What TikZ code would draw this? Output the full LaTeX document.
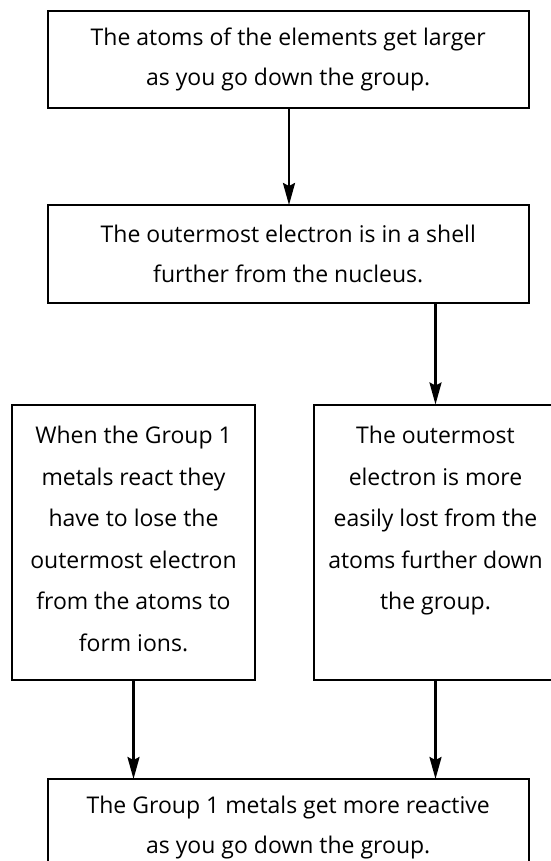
\documentclass[tikz,border=0pt]{standalone}
\usepackage{fontspec}
\setmainfont{Open Sans}
\usetikzlibrary{arrows.meta}

\tikzset{
  box/.style={draw=black, line width=2pt, inner sep=0pt, outer sep=0pt, fill=white},
  flow/.style={line width=2.4pt, -{Stealth[length=22pt, width=12pt, inset=3pt]}},
  txt/.style={font=\fontsize{23}{40}\selectfont, align=center, inner sep=0pt}
}

% top-aligned centred text in a fixed-size frame: #1 frame width, #2 height, #3 text width
\newcommand{\topbox}[4]{\parbox[c][#2][t]{#1}{\vspace*{22pt}\parbox[t]{#3}{\centering\fontsize{23}{41.5}\selectfont #4}}}

\begin{document}
\begin{tikzpicture}[x=1pt, y=-1pt]
  \useasboundingbox (0,0) rectangle (550,861);

  % column lines for the vertical connectors
  \coordinate (colA) at (289,0);
  \coordinate (colB) at (435.5,0);

  % main chain of statements
  \node[box, minimum width=481.5pt, minimum height=97pt, txt] (atoms) at (288.25,59.5)
    {The atoms of the elements get larger\\as you go down the group.};
  \node[box, minimum width=481.5pt, minimum height=98pt, txt] (shell) at (288.25,254)
    {The outermost electron is in a shell\\further from the nucleus.};

  % two side-by-side reasons
  \node[box] (react) at (133.5,542)
    {\topbox{243pt}{275pt}{243pt}{When the Group 1\\metals react they\\have to lose the\\outermost electron\\from the atoms to\\form ions.}};
  \node[box] (lost) at (444.5,542)
    {\topbox{261pt}{275pt}{243pt}{The outermost\\electron is more\\easily lost from the\\atoms further down\\the group.}};

  % conclusion
  \node[box, minimum width=481.5pt, minimum height=98pt, txt] (result) at (288.25,828)
    {The Group 1 metals get more reactive\\as you go down the group.};

  % connectors
  \draw[flow] (atoms.south -| colA) -- (shell.north -| colA);
  \draw[flow] (shell.south -| colB) -- (lost.north -| colB);
  \draw[flow] (react.south) -- (react.south |- result.north);
  \draw[flow] (lost.south -| colB) -- (result.north -| colB);
\end{tikzpicture}
\end{document}
